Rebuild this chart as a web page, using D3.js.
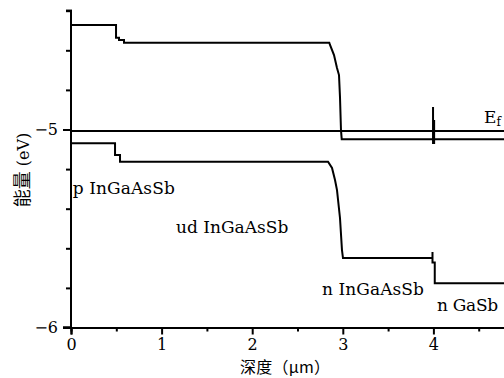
<!DOCTYPE html>
<html>
<head>
<meta charset="utf-8">
<script src="https://cdn.jsdelivr.net/npm/d3@7"></script>
<style>
  body { margin: 0; background: #fff; }
  svg { display: block; }
  text { fill: #000; }
</style>
</head>
<body>
<svg width="504" height="378"></svg>
<script>
// conduction band edge (depth in um, energy in eV)
var cbDepth  = [0, 0.497, 0.497, 0.530, 0.530, 0.585, 0.585, 2.851, 2.859, 2.903, 2.936, 2.958, 2.969, 2.980, 2.988, 3.996, 3.996, 3.996, 4.008, 4.008, 4.008, 5];
var cbEnergy = [-4.472, -4.472, -4.536, -4.536, -4.548, -4.548, -4.562, -4.562, -4.573, -4.624, -4.689, -4.725, -4.836, -5.003, -5.049, -5.049, -4.886, -5.068, -5.068, -4.952, -5.049, -5.049];

// valence band edge
var vbDepth  = [0, 0.486, 0.486, 0.541, 0.541, 2.837, 2.881, 2.914, 2.936, 2.969, 2.991, 3.002, 3.990, 3.990, 3.990, 4.015, 4.015, 5];
var vbEnergy = [-5.070, -5.070, -5.129, -5.129, -5.163, -5.163, -5.194, -5.255, -5.306, -5.447, -5.609, -5.649, -5.649, -5.619, -5.672, -5.672, -5.777, -5.777];

// fermi level
var efDepth  = [0, 5];
var efEnergy = [-5.007, -5.007];

var xMajor = [0, 1, 2, 3, 4];
var xMinor = [0.5, 1.5, 2.5, 3.5, 4.5];
var yMajor = [-6, -5];
var yMinor = [-5.8, -5.6, -5.4, -5.2, -4.8, -4.6, -4.4];

// region labels
var regionNames = ['p InGaAsSb', 'ud InGaAsSb', 'n InGaAsSb', 'n GaSb'];
var regionX = [0.02, 1.16, 2.77, 4.04];
var regionE = [-5.325, -5.522, -5.838, -5.919];

var svg = d3.select('svg');

var x = d3.scaleLinear().domain([0, 5]).range([71, 71 + 5 * 90.6]);
var y = d3.scaleLinear().domain([-6, -5]).range([327.5, 129.5]);

var serif = 'DejaVu Serif, Liberation Serif, serif';
var cjk = 'Noto Sans CJK SC, sans-serif';

function toPoints(xs, ys) {
    return xs.map(function(d, i) { return [d, ys[i]]; });
}

var line = d3.line()
    .x(function(d) { return x(d[0]); })
    .y(function(d) { return y(d[1]); });

// bands
[[cbDepth, cbEnergy], [vbDepth, vbEnergy], [efDepth, efEnergy]].forEach(function(s) {
    svg.append('path')
        .attr('d', line(toPoints(s[0], s[1])))
        .attr('fill', 'none')
        .attr('stroke', '#000')
        .attr('stroke-width', 2);
});

// x axis
var xAxis = svg.append('g')
    .attr('transform', 'translate(0,' + y(-6) + ')');
xAxis.call(d3.axisBottom(x).tickValues(xMinor).tickSize(4).tickFormat(''));
xAxis.append('g')
    .call(d3.axisBottom(x).tickValues(xMajor).tickSize(7).tickFormat(d3.format('d')));
xAxis.selectAll('.domain').attr('stroke-width', 2);
xAxis.selectAll('line').attr('stroke-width', 2);
xAxis.selectAll('text')
    .attr('font-family', serif)
    .attr('font-size', 16)
    .attr('dy', '0.75em')
    .attr('y', 10);

// y axis
var yAxis = svg.append('g')
    .attr('transform', 'translate(' + x(0) + ',0)');
yAxis.call(d3.axisLeft(y).tickValues(yMinor).tickSize(5).tickFormat(''));
yAxis.append('g').call(d3.axisLeft(y).tickValues(yMajor).tickSize(8).tickFormat(d3.format('d')));
yAxis.selectAll('.domain').attr('stroke-width', 2)
    .attr('d', 'M-5,' + y(-4.4) + 'H0V' + y(-6) + 'H-8');
yAxis.selectAll('line').attr('stroke-width', 2);
yAxis.selectAll('text')
    .attr('font-family', serif)
    .attr('font-size', 16)
    .attr('x', -13);

// axis titles
svg.append('text')
    .attr('x', 285)
    .attr('y', 373)
    .attr('text-anchor', 'middle')
    .attr('font-family', cjk)
    .attr('font-size', 16)
    .attr('textLength', 90)
    .attr('lengthAdjust', 'spacing')
    .text('深度（μm）');

svg.append('text')
    .attr('transform', 'translate(29,170) rotate(-90)')
    .attr('text-anchor', 'middle')
    .attr('font-family', serif)
    .attr('font-size', 16)
    .html('<tspan font-family="Noto Sans CJK SC" font-size="18">能量</tspan> (eV)');

// region labels (monospaced look of the original: ~10.3px per character)
svg.selectAll('.region')
    .data(regionNames)
    .enter()
    .append('text')
    .attr('class', 'region')
    .attr('x', function(d, i) { return x(regionX[i]); })
    .attr('y', function(d, i) { return y(regionE[i]); })
    .attr('font-family', serif)
    .attr('font-size', 17)
    .attr('textLength', function(d) { return d.length * 10.2; })
    .attr('lengthAdjust', 'spacing')
    .text(function(d) { return d; });

// fermi level label
var ef = svg.append('text')
    .attr('x', 484)
    .attr('y', 123)
    .attr('font-family', serif)
    .attr('font-size', 17)
    .text('E');
ef.append('tspan')
    .attr('font-size', 12)
    .attr('dy', 3)
    .text('f');
</script>
</body>
</html>
